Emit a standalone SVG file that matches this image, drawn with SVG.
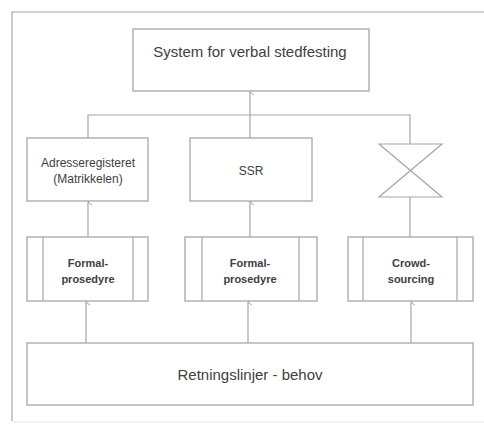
<svg xmlns="http://www.w3.org/2000/svg" width="484" height="425" viewBox="0 0 484 425">
<defs>
<marker id="arr" viewBox="0 0 10 10" refX="5" refY="1" markerWidth="8" markerHeight="8" markerUnits="userSpaceOnUse" orient="auto-start-reverse">
<polyline points="1,6 5,1 9,6" fill="none" stroke="#a0a0a0" stroke-width="1.2"/>
</marker>
</defs>
<style>
.box{fill:#fff;stroke:#a6a6a6;stroke-width:1.3}
.ln{fill:none;stroke:#a6a6a6;stroke-width:1.2}
.t{font-family:"Liberation Sans",Arial,sans-serif;fill:#404040;text-anchor:middle}
.b{font-weight:bold}
</style>
<rect width="484" height="425" fill="#fff"/>
<g id="frame">
<polyline class="ln" points="484,12 12,12 12,421" stroke="#bdbdbd"/>
<line x1="12" y1="422" x2="484" y2="422" stroke="#e6e6e6" stroke-width="1"/>
</g>
<g id="connectors">
<line class="ln" x1="250" y1="138" x2="250" y2="92" marker-end="url(#arr)"/>
<polyline class="ln" points="88,138 88,115 410,115 410,144"/>
<line class="ln" x1="410" y1="197" x2="410" y2="237"/>
<line class="ln" x1="88" y1="237" x2="88" y2="202" marker-end="url(#arr)"/>
<line class="ln" x1="250" y1="237" x2="250" y2="202" marker-end="url(#arr)"/>
<line class="ln" x1="86" y1="343" x2="86" y2="302" marker-end="url(#arr)"/>
<line class="ln" x1="248" y1="343" x2="248" y2="302" marker-end="url(#arr)"/>
<line class="ln" x1="411" y1="343" x2="411" y2="302" marker-end="url(#arr)"/>
</g>
<g id="system">
<rect class="box" x="133" y="29" width="236" height="62"/>
<text class="t" x="250" y="57" font-size="15">System for verbal stedfesting</text>
</g>
<g id="adresseregisteret">
<rect class="box" x="27" y="138" width="121" height="63"/>
<text class="t" x="88" y="167" font-size="12">Adresseregisteret</text>
<text class="t" x="88" y="183" font-size="12">(Matrikkelen)</text>
</g>
<g id="ssr">
<rect class="box" x="190" y="138" width="122" height="63"/>
<text class="t" x="251" y="175" font-size="12">SSR</text>
</g>
<g id="bowtie">
<path class="ln" d="M379,144 H442 L379,197 H442 Z"/>
</g>
<g id="formal1">
<rect class="box" x="27" y="237" width="121" height="64"/>
<line class="ln" x1="43" y1="237" x2="43" y2="301"/>
<line class="ln" x1="133" y1="237" x2="133" y2="301"/>
<text class="t b" x="88" y="267" font-size="11">Formal-</text>
<text class="t b" x="88" y="283" font-size="11">prosedyre</text>
</g>
<g id="formal2">
<rect class="box" x="185" y="237" width="132" height="64"/>
<line class="ln" x1="202" y1="237" x2="202" y2="301"/>
<line class="ln" x1="299" y1="237" x2="299" y2="301"/>
<text class="t b" x="250" y="267" font-size="11">Formal-</text>
<text class="t b" x="250" y="283" font-size="11">prosedyre</text>
</g>
<g id="crowd">
<rect class="box" x="348" y="237" width="125" height="64"/>
<line class="ln" x1="363" y1="237" x2="363" y2="301"/>
<line class="ln" x1="457" y1="237" x2="457" y2="301"/>
<text class="t b" x="411" y="267" font-size="11">Crowd-</text>
<text class="t b" x="411" y="283" font-size="11">sourcing</text>
</g>
<g id="retningslinjer">
<rect class="box" x="27" y="343" width="446" height="62"/>
<text class="t" x="250" y="380" font-size="15">Retningslinjer - behov</text>
</g>
</svg>
